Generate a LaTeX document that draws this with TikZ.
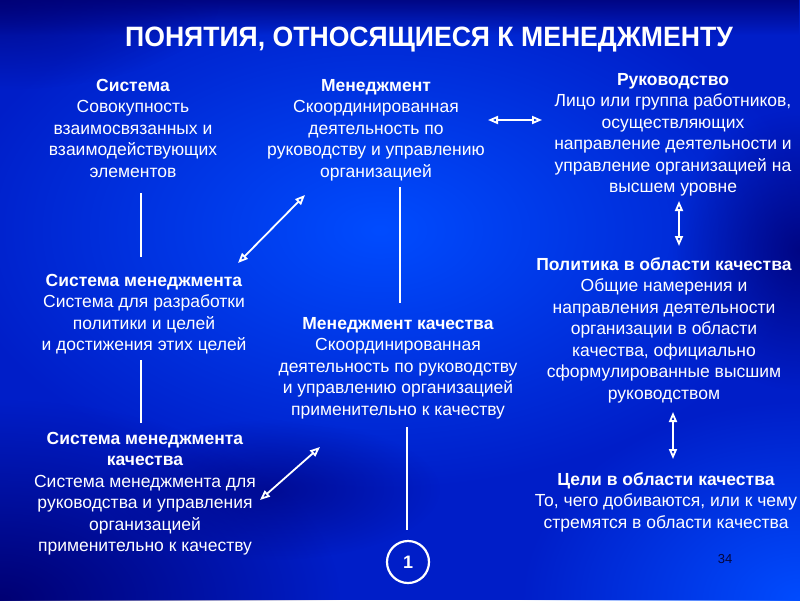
\documentclass[tikz,border=0pt]{standalone}
\usepackage{fontspec}
\setmainfont{Liberation Sans}
\usetikzlibrary{arrows.meta,fadings}
\definecolor{bgbase}{RGB}{0,30,200}
\definecolor{bgbright}{RGB}{0,76,255}
\definecolor{bgdark}{RGB}{0,0,115}
\definecolor{pagenum}{RGB}{5,5,60}
\tikzfading[name=topdark, top color=transparent!0, bottom color=transparent!100]
\tikzfading[name=glow, inner color=transparent!0, outer color=transparent!100]
\tikzset{
  txt/.style={text=white, align=center, inner sep=0pt, anchor=north,
    font=\fontsize{17.5}{21.5}\selectfont},
  plainline/.style={white, line width=2pt},
  dblarrow/.style={white, line width=1.8pt,
    {Triangle[open,length=10pt,width=8pt]}-{Triangle[open,length=10pt,width=8pt]}},
}
\begin{document}
\begin{tikzpicture}[x=1pt,y=-1pt]
\useasboundingbox (0,0) rectangle (800,600);
\begin{scope}
\clip (0,0) rectangle (800,600);
% background
\fill[bgbase] (0,0) rectangle (800,600);
\fill[bgbright, path fading=glow] (380,230) ellipse [x radius=430, y radius=260];
\fill[bgbright, path fading=glow] (800,600) ellipse [x radius=280, y radius=200];
\fill[bgdark, path fading=glow] (0,600) ellipse [x radius=340, y radius=200];
\fill[bgdark, path fading=glow, opacity=.8] (800,250) ellipse [x radius=130, y radius=140];
\fill[bgdark, path fading=glow, opacity=.6] (270,490) ellipse [x radius=170, y radius=70];
\fill[bgdark, path fading=topdark, opacity=.8] (0,0) rectangle (800,35);
\fill[bgdark, path fading=glow, opacity=.7] (0,0) ellipse [x radius=220, y radius=90];

% title
\node[text=white, inner sep=0pt, font=\fontsize{28}{32}\selectfont\bfseries] (title) at (429,40)
  {\scalebox{0.95}[1]{ПОНЯТИЯ, ОТНОСЯЩИЕСЯ К МЕНЕДЖМЕНТУ}};

% text blocks
\node[txt] (sys) at (133,79) {\textbf{Система}\\Совокупность\\взаимосвязанных и\\взаимодействующих\\элементов};
\node[txt] (man) at (376,79) {\textbf{Менеджмент}\\Скоординированная\\деятельность по\\руководству и управлению\\организацией};
\node[txt] (ruk) at (673,73) {\textbf{Руководство}\\Лицо или группа работников,\\осуществляющих\\направление деятельности и\\управление организацией на\\высшем уровне};
\node[txt] (sysman) at (144,274) {\textbf{Система менеджмента}\\Система для разработки\\политики и целей\\и достижения этих целей};
\node[txt] (mankach) at (398,317) {\textbf{Менеджмент качества}\\Скоординированная\\деятельность по руководству\\и управлению организацией\\применительно к качеству};
\node[txt] (polit) at (664,257) {\textbf{Политика в области качества}\\Общие намерения и\\направления деятельности\\организации в области\\качества, официально\\сформулированные высшим\\руководством};
\node[txt] (smk) at (145,432) {\textbf{Система менеджмента}\\\textbf{качества}\\Система менеджмента для\\руководства и управления\\организацией\\применительно к качеству};
\node[txt] (celi) at (666,472) {\textbf{Цели в области качества}\\То, чего добиваются, или к чему\\стремятся в области качества};

% circle
\node[circle, draw=white, line width=2.2pt, minimum size=42pt, inner sep=0pt,
  text=white, font=\fontsize{18}{20}\selectfont\bfseries] (one) at (408,562) {1};

% page number
\node[inner sep=0pt, font=\fontsize{13}{15}\selectfont] (pg) at (725,559) {\color{pagenum}34};

% connector end points
\coordinate (l1a) at (141,193); \coordinate (l1b) at (141,257);
\coordinate (d1a) at (305,195); \coordinate (d1b) at (238,263);
\coordinate (l2a) at (400,187); \coordinate (l2b) at (400,303);
\coordinate (h1a) at (488,120); \coordinate (h1b) at (542,120);
\coordinate (v1a) at (679,201); \coordinate (v1b) at (679,246);
\coordinate (l3a) at (141,360); \coordinate (l3b) at (141,423);
\coordinate (d2a) at (320,447); \coordinate (d2b) at (260,500);
\coordinate (l4a) at (407,427); \coordinate (l4b) at (407,530);
\coordinate (v2a) at (673,412); \coordinate (v2b) at (673,459);

\draw[plainline] (l1a) -- (l1b);
\draw[plainline] (l2a) -- (l2b);
\draw[plainline] (l3a) -- (l3b);
\draw[plainline] (l4a) -- (l4b);
\draw[dblarrow] (d1a) -- (d1b);
\draw[dblarrow] (d2a) -- (d2b);
\draw[dblarrow] (h1a) -- (h1b);
\draw[dblarrow] (v1a) -- (v1b);
\draw[dblarrow] (v2a) -- (v2b);
\end{scope}
\end{tikzpicture}
\end{document}
